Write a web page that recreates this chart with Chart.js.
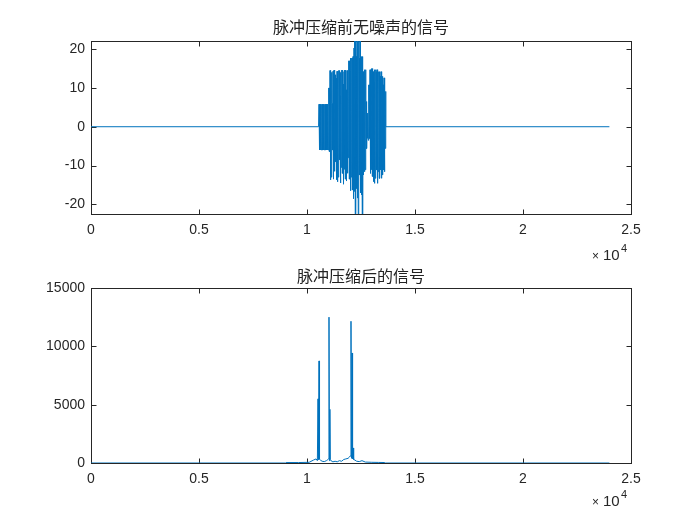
<!DOCTYPE html>
<html>
<head>
<meta charset="utf-8">
<script src="https://cdn.jsdelivr.net/npm/chart.js@4"></script>
<style>
  body { margin: 0; background: #fff; }
  #wrap { position: relative; width: 700px; height: 525px; }
  canvas { position: absolute; left: 0; }
</style>
</head>
<body>
<div id="wrap">
  <canvas id="topChart" width="700" height="262" style="top:0"></canvas>
  <canvas id="bottomChart" width="700" height="263" style="top:262px"></canvas>
</div>
<script>
// ---- data ----
const topTitle = '脉冲压缩前无噪声的信号';
const bottomTitle = '脉冲压缩后的信号';

const xTicks = [0, 5000, 10000, 15000, 20000, 25000];
const topYTicks = [-20, -10, 0, 10, 20];
const bottomYTicks = [0, 5000, 10000, 15000];

// flat part of the echo signal
const signalStart = 0;
const signalEnd = 24000;

// burst: sample position, upper and lower swing of the oscillation
const burstX = [10556, 10602, 10648, 10694, 10741, 10787, 10833, 10880, 10926, 10972,
  11018, 11065, 11111, 11157, 11204, 11250, 11296, 11343, 11389, 11435,
  11481, 11528, 11574, 11620, 11667, 11713, 11759, 11806, 11852, 11898,
  11944, 11991, 12037, 12083, 12130, 12176, 12222, 12269, 12315, 12361,
  12407, 12454, 12500, 12546, 12593, 12639, 12685, 12731, 12778, 12824,
  12870, 12917, 12963, 13009, 13056, 13102, 13148, 13194, 13241, 13287,
  13333, 13380, 13426, 13472, 13519, 13565, 13611];
const burstTop = [5.8, 5.8, 5.8, 5.8, 5.8, 5.8, 5.8, 5.8, 5.8, 5.8,
  10, 14.5, 14.0, 6.0, 14.3, 14.6, 13.4, 12.5, 14.3, 10.5,
  14.5, 8.0, 14.0, 14.6, 11.0, 14.2, 14.6, 9.5, 14.5, 14.5,
  17.0, 14.3, 17.7, 17.7, 18.1, 20.3, 23, 18.1, 23, 22.0,
  17.7, 23, 17.9, 18.1, 14.2, 13.0, 14.7, 6.5, 2.6, 3.5,
  10.8, 14.7, 13.5, 15.0, 14.2, 11.6, 14.7, 14.2, 14.7, 11.6,
  14.2, 13.0, 14.2, 13.0, 10.8, 12.6, 9.1];
const burstLow = [-6.0, -6.0, -6.0, -6.0, -6.0, -6.0, -6.0, -6.0, -6.0, -6.0,
  -6.4, -13.7, -13.0, -6.0, -13.5, -11.5, -9.0, -13.6, -14.2, -13.0,
  -8.5, -14.5, -10.5, -12.0, -14.8, -11.0, -13.5, -14.0, -12.0, -8.0,
  -13.5, -16.5, -13.0, -16.3, -18.5, -16.7, -23, -15.9, -18.4, -23,
  -12.4, -17.0, -17.6, -23, -12.4, -11.6, -11.1, -5.6, -3.0, -3.5,
  -3.0, -12.0, -11.1, -12.8, -14.1, -14.6, -13.3, -11.1, -14.6, -11.6,
  -13.3, -11.1, -13.3, -12.4, -11.1, -11.6, -5.6];

// compressed output
const compX = [0, 9000, 9030, 9600, 10100, 10300, 10420, 10480, 10510, 10530,
  10556, 10580, 10620, 10700, 10800, 10900, 10970, 11000, 11018, 11040,
  11060, 11080, 11120, 11200, 11300, 11400, 11500, 11600, 11700, 11800,
  11900, 11960, 12000, 12037, 12060, 12085, 12110, 12130, 12160, 12220,
  12300, 12420, 12546, 12700, 13000, 13300, 13600, 13620, 24000];
const compY = [0, 0, 40, 40, 60, 250, 350, 200, 5500, 300,
  8750, 320, 250, 150, 120, 200, 300, 350, 12500, 200,
  4600, 300, 180, 100, 150, 100, 200, 150, 300, 350,
  400, 500, 600, 12150, 400, 9430, 350, 1290, 300, 250,
  150, 120, 200, 80, 60, 50, 40, 0, 0];

// ---- build point lists ----
// each burst column swings top -> low twice so the oscillation reads as a solid band
const signalPts = [{x: signalStart, y: 0}, {x: burstX[0] - 20, y: 0}];
burstX.forEach((x, i) => {
  signalPts.push({x: x, y: burstTop[i]});
  signalPts.push({x: x + 12, y: burstLow[i]});
  signalPts.push({x: x + 23, y: burstTop[i]});
  signalPts.push({x: x + 35, y: burstLow[i]});
});
signalPts.push({x: burstX[burstX.length - 1] + 46, y: 0});
signalPts.push({x: signalEnd, y: 0});

const compPts = compX.map((x, i) => ({x: x, y: compY[i]}));

// ---- MATLAB-like box, inward ticks, x10^4 ----
const axisColor = '#262626';
const matlabAxes = {
  id: 'matlabAxes',
  beforeDatasetsDraw(chart) {
    const {ctx, chartArea: a, scales} = chart;
    ctx.save();
    ctx.strokeStyle = axisColor;
    ctx.lineWidth = 1;
    const l = Math.round(a.left) + 0.5, r = Math.round(a.right) + 0.5;
    const t = Math.round(a.top) + 0.5, b = Math.round(a.bottom) + 0.5;
    ctx.strokeRect(l, t, r - l, b - t);
    const len = 5;
    ctx.beginPath();
    scales.x.ticks.forEach(tk => {
      const px = Math.round(scales.x.getPixelForValue(tk.value)) + 0.5;
      ctx.moveTo(px, b); ctx.lineTo(px, b - len);
      ctx.moveTo(px, t); ctx.lineTo(px, t + len);
    });
    scales.y.ticks.forEach(tk => {
      const py = Math.round(scales.y.getPixelForValue(tk.value)) + 0.5;
      ctx.moveTo(l, py); ctx.lineTo(l + len, py);
      ctx.moveTo(r, py); ctx.lineTo(r - len, py);
    });
    ctx.stroke();
    ctx.restore();
  },
  afterDraw(chart, args, opts) {
    const {ctx, chartArea: a} = chart;
    ctx.save();
    ctx.fillStyle = axisColor;
    ctx.textBaseline = 'middle';
    ctx.textAlign = 'left';
    const y = a.bottom + opts.expOffset;
    ctx.font = '12px "Liberation Sans", Arial, sans-serif';
    ctx.fillText('×', 592, y + 1);
    ctx.font = '15px "Liberation Sans", Arial, sans-serif';
    ctx.fillText('10', 603, y);
    ctx.font = '11px "Liberation Sans", Arial, sans-serif';
    ctx.fillText('4', 621, y - 7);
    ctx.restore();
  }
};

const tickFont = {size: 14, family: '"Liberation Sans", Arial, sans-serif'};

function makeChart(id, title, pts, yMin, yMax, yTicks, pad, titlePad, expOffset) {
  return new Chart(document.getElementById(id).getContext('2d'), {
    type: 'line',
    data: {
      datasets: [{
        data: pts,
        borderColor: '#0072BD',
        borderWidth: 1,
        pointRadius: 0,
        tension: 0,
        fill: false
      }]
    },
    options: {
      responsive: false,
      animation: false,
      events: [],
      layout: {padding: pad},
      plugins: {
        legend: {display: false},
        tooltip: {enabled: false},
        title: {
          display: true,
          fullSize: false,
          text: title,
          color: '#222',
          font: {size: 16, weight: 'normal', family: '"Noto Sans CJK SC", sans-serif', lineHeight: 1.2},
          padding: titlePad
        },
        matlabAxes: {expOffset: expOffset}
      },
      scales: {
        x: {
          type: 'linear',
          min: 0,
          max: 25000,
          afterBuildTicks: s => { s.ticks = xTicks.map(v => ({value: v})); },
          afterFit: s => { s.height = 30; },
          ticks: {
            callback: v => String(v / 10000),
            color: axisColor,
            font: tickFont,
            padding: 8,
            maxRotation: 0,
            autoSkip: false
          },
          grid: {display: false, drawTicks: false},
          border: {display: false}
        },
        y: {
          min: yMin,
          max: yMax,
          afterBuildTicks: s => { s.ticks = yTicks.map(v => ({value: v})); },
          afterFit: s => { s.width = 91; },
          ticks: {
            callback: v => String(v),
            color: axisColor,
            font: tickFont,
            padding: 6,
            autoSkip: false
          },
          grid: {display: false, drawTicks: false},
          border: {display: false}
        }
      }
    },
    plugins: [matlabAxes]
  });
}

makeChart('topChart', topTitle, signalPts, -22.5, 22.1, topYTicks,
  {left: 0, right: 69, top: 0, bottom: 18}, {top: 17.4, bottom: 4.4}, 42);
makeChart('bottomChart', bottomTitle, compPts, 0, 15000, bottomYTicks,
  {left: 0, right: 69, top: 0, bottom: 32}, {top: 4.4, bottom: 2.4}, 39);
</script>
</body>
</html>
